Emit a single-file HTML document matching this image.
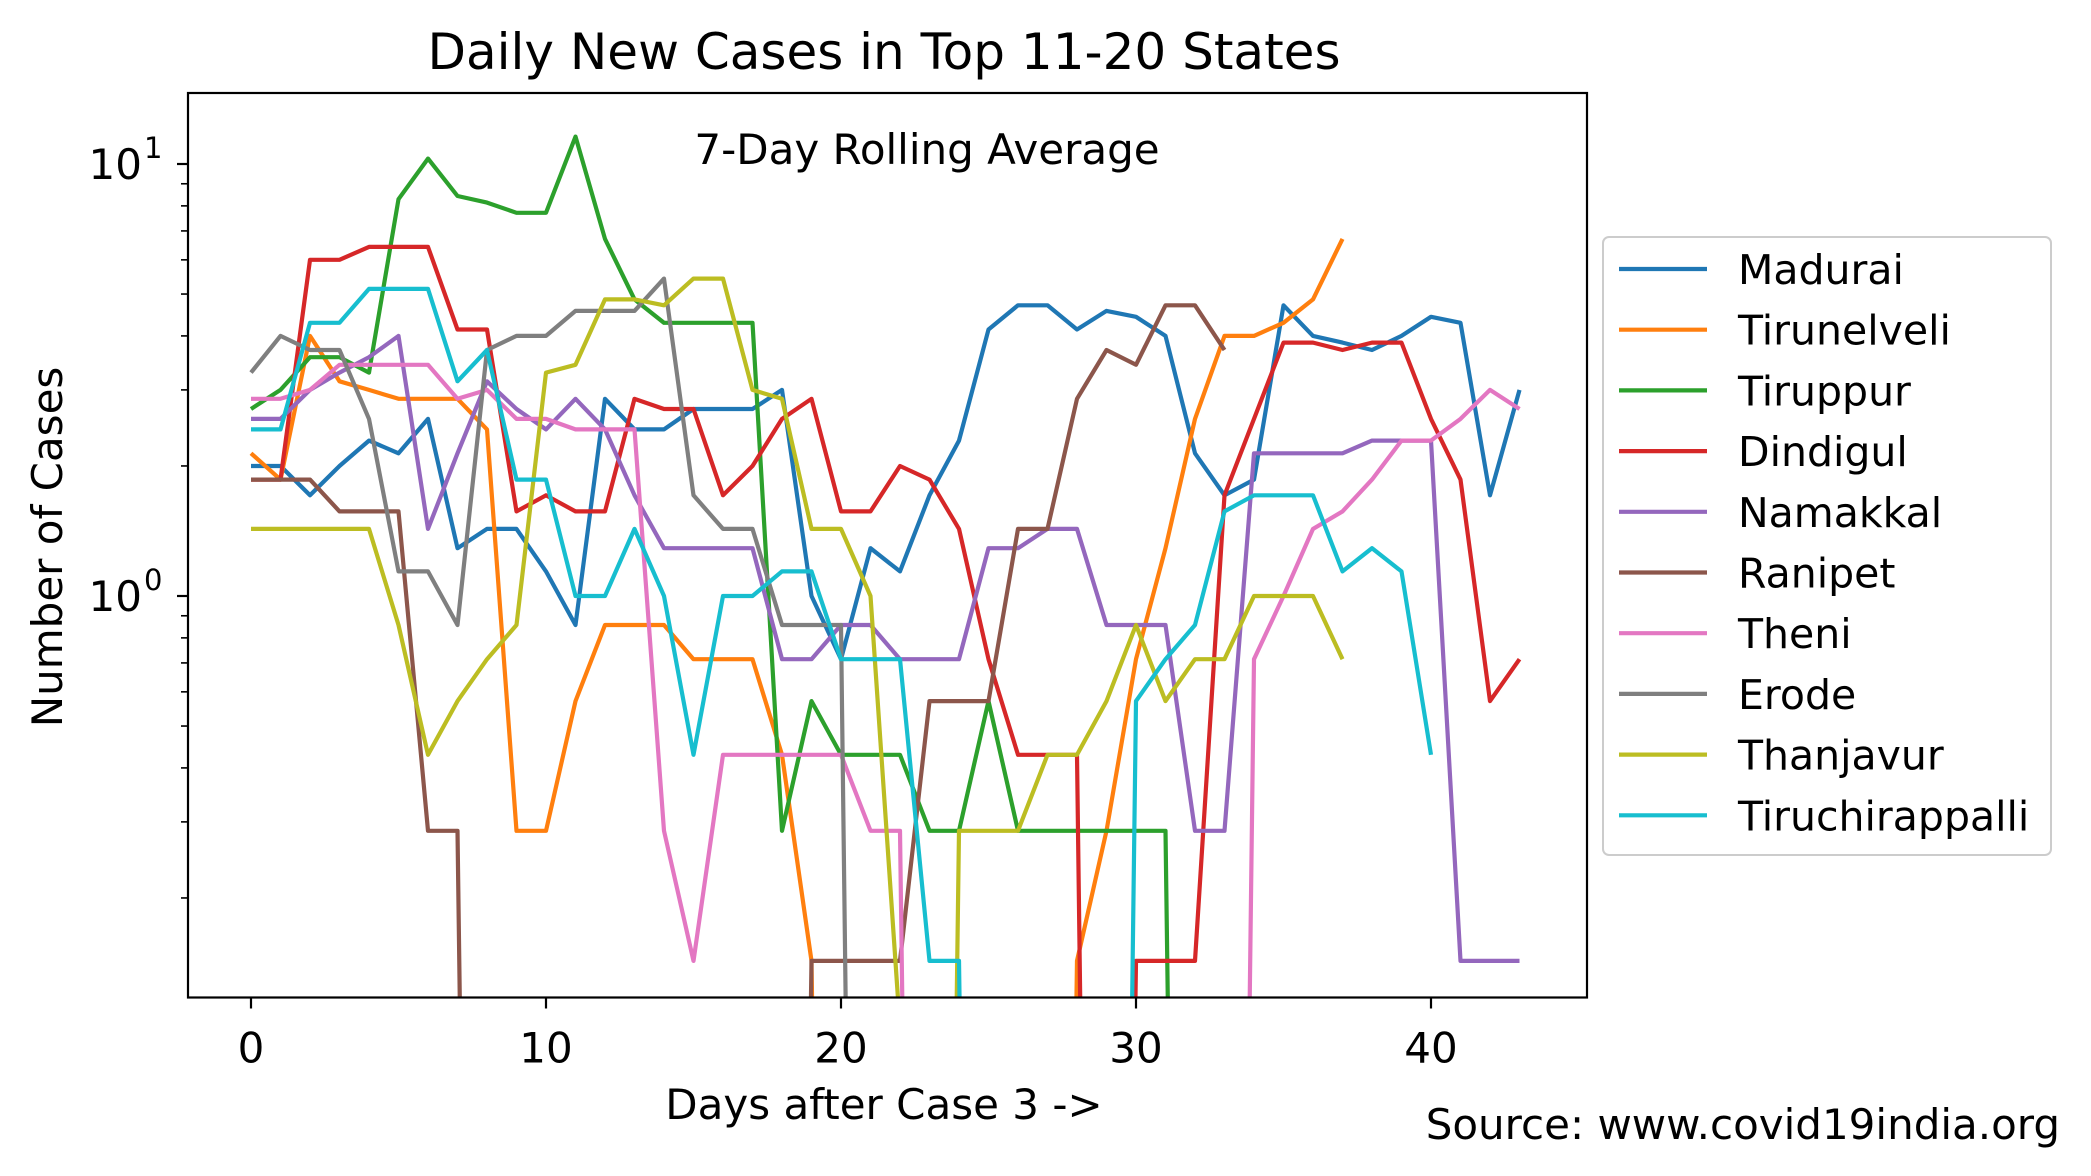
<!DOCTYPE html>
<html><head><meta charset="utf-8"><style>
html,body{margin:0;padding:0;background:#fff;overflow:hidden;width:2091px;height:1176px;}
svg{display:block;font-family:"DejaVu Sans","Liberation Sans",sans-serif;}
</style></head><body>
<svg id="chart" width="2091" height="1176" viewBox="0 0 2091 1176">
<defs><clipPath id="plotclip"><rect x="188" y="93" width="1399" height="904.5"/></clipPath></defs>
<text x="884" y="69" font-size="50" text-anchor="middle">Daily New Cases in Top 11-20 States</text>
<text x="927" y="164" font-size="42" text-anchor="middle">7-Day Rolling Average</text>
<g id="series" clip-path="url(#plotclip)"></g>
<rect x="188" y="93" width="1399" height="904.5" fill="none" stroke="#000" stroke-width="2.2"/>
<g id="xticks"></g>
<g id="yticks"></g>
<text x="884" y="1119" font-size="42" text-anchor="middle">Days after Case 3 -&gt;</text>
<text x="0" y="0" font-size="42" text-anchor="middle" transform="translate(62,547) rotate(-90)">Number of Cases</text>
<text x="2060" y="1139" font-size="42" text-anchor="end">Source: www.covid19india.org</text>
<g id="legend">
<rect x="1603" y="237" width="448" height="618" rx="6" fill="#fff" stroke="#ccc" stroke-width="2"/>
</g>
</svg>
<script>
const days = Array.from({length:44},(_,i)=>i);
const seriesNames = ["Madurai","Tirunelveli","Tiruppur","Dindigul","Namakkal","Ranipet","Theni","Erode","Thanjavur","Tiruchirappalli"];
const seriesColors = ["#1f77b4","#ff7f0e","#2ca02c","#d62728","#9467bd","#8c564b","#e377c2","#7f7f7f","#bcbd22","#17becf"];
const madurai = [2,2,1.71,2,2.29,2.14,2.57,1.29,1.43,1.43,1.14,0.857,2.86,2.43,2.43,2.71,2.71,2.71,3,1,0.714,1.29,1.14,1.71,2.29,4.14,4.71,4.71,4.14,4.57,4.43,4,2.14,1.71,1.86,4.71,4,3.86,3.71,4,4.43,4.29,1.71,3];
const tirunelveli = [2.14,1.86,4,3.14,3,2.86,2.86,2.86,2.43,0.286,0.286,0.571,0.857,0.857,0.857,0.714,0.714,0.714,0.429,0.143,0,0,0,0,0,0,0,0,0.143,0.286,0.714,1.29,2.57,4,4,4.29,4.86,6.71];
const tiruppur = [2.71,3,3.57,3.57,3.29,8.29,10.29,8.43,8.14,7.71,7.71,11.57,6.71,4.86,4.29,4.29,4.29,4.29,0.286,0.571,0.429,0.429,0.429,0.286,0.286,0.571,0.286,0.286,0.286,0.286,0.286,0.286,0,0,0,0,0,0,0,0,0,0,0,0];
const dindigul = [1.86,1.86,6,6,6.43,6.43,6.43,4.14,4.14,1.57,1.71,1.57,1.57,2.86,2.71,2.71,1.71,2,2.57,2.86,1.57,1.57,2,1.86,1.43,0.714,0.429,0.429,0.429,0,0.143,0.143,0.143,1.71,2.57,3.86,3.86,3.71,3.86,3.86,2.57,1.86,0.571,0.714];
const namakkal = [2.57,2.57,3,3.29,3.57,4,1.43,2.14,3.14,2.71,2.43,2.86,2.43,1.71,1.29,1.29,1.29,1.29,0.714,0.714,0.857,0.857,0.714,0.714,0.714,1.29,1.29,1.43,1.43,0.857,0.857,0.857,0.286,0.286,2.14,2.14,2.14,2.14,2.29,2.29,2.29,0.143,0.143,0.143];
const ranipet = [1.86,1.86,1.86,1.57,1.57,1.57,0.286,0.286,0,0,0,0,0,0,0,0,0,0,0,0.143,0.143,0.143,0.143,0.571,0.571,0.571,1.43,1.43,2.86,3.71,3.43,4.71,4.71,3.71];
const theni = [2.86,2.86,3,3.43,3.43,3.43,3.43,2.86,3,2.57,2.57,2.43,2.43,2.43,0.286,0.143,0.429,0.429,0.429,0.429,0.429,0.286,0.286,0,0,0,0,0,0,0,0,0,0,0,0.714,1,1.43,1.57,1.86,2.29,2.29,2.57,3,2.71];
const erode = [3.29,4,3.71,3.71,2.57,1.14,1.14,0.857,3.71,4,4,4.57,4.57,4.57,5.43,1.71,1.43,1.43,0.857,0.857,0.857,0,0,0,0,0,0,0,0,0,0,0,0,0,0,0,0,0,0,0,0,0,0,0];
const thanjavur = [1.43,1.43,1.43,1.43,1.43,0.857,0.429,0.571,0.714,0.857,3.29,3.43,4.86,4.86,4.71,5.43,5.43,3,2.86,1.43,1.43,1,0.1,0,0.286,0.286,0.286,0.429,0.429,0.571,0.857,0.571,0.714,0.714,1,1,1,0.714];
const tiruchirappalli = [2.43,2.43,4.29,4.29,5.14,5.14,5.14,3.14,3.71,1.86,1.86,1,1,1.43,1,0.429,1,1,1.14,1.14,0.714,0.714,0.714,0.143,0.143,0,0,0,0,0,0.571,0.714,0.857,1.57,1.71,1.71,1.71,1.14,1.29,1.14,0.429];
const allSeries = [madurai,tirunelveli,tiruppur,dindigul,namakkal,ranipet,theni,erode,thanjavur,tiruchirappalli];
const xTicks = [0,10,20,30,40];
const yMajor = [0,1];

const NS="http://www.w3.org/2000/svg";
const X0=251, XS=29.5, Y0=596, DEC=432, BOT=997.5;
function xs(d){return X0+XS*d;}
function ys(v){ if(v<=0) return 3000; return Y0-Math.log10(v)*DEC; }
function mk(tag,attrs,parent){const e=document.createElementNS(NS,tag);for(const k in attrs)e.setAttribute(k,attrs[k]);parent.appendChild(e);return e;}

const sg=document.getElementById('series');
allSeries.forEach((arr,si)=>{
  const pts=arr.map((v,i)=>xs(days[i]).toFixed(1)+','+ys(v).toFixed(1)).join(' ');
  const pl=mk('polyline',{points:pts,fill:'none',stroke:seriesColors[si],'stroke-width':4.2,'stroke-linejoin':'round'},sg);
  
  
});

const xg=document.getElementById('xticks');
xTicks.forEach(t=>{
  const x=xs(t);
  const l=mk('line',{x1:x,x2:x,y1:BOT,y2:BOT+11,stroke:'#000','stroke-width':2.2},xg);
  
  
  const tx=mk('text',{x:x,y:BOT+65,'font-size':42,'text-anchor':'middle'},xg);
  tx.textContent=t;
  
  
});

const yg=document.getElementById('yticks');
yMajor.forEach(p=>{
  const y=Y0-p*DEC;
  const l=mk('line',{x1:188,x2:177,y1:y,y2:y,stroke:'#000','stroke-width':2.2},yg);
  
  
  const tx=mk('text',{x:142,y:y+15,'font-size':42,'text-anchor':'end'},yg);
  tx.textContent='10';
  
  
  const sp=mk('text',{x:144,y:y-6,'font-size':29,'text-anchor':'start'},yg);
  sp.textContent=String(p);
  
  
});
[-1,0,1].forEach(p=>{
  for(let m=2;m<=9;m++){
    const v=m*Math.pow(10,p);
    const y=ys(v);
    if(y<93||y>BOT) continue;
    const l=mk('line',{x1:188,x2:181,y1:y,y2:y,stroke:'#000','stroke-width':1.6},yg);
    
    
  }
});

const lg=document.getElementById('legend');
seriesNames.forEach((n,i)=>{
  const y=269+60.7*i;
  const l=mk('line',{x1:1619,x2:1707,y1:y,y2:y,stroke:seriesColors[i],'stroke-width':4.2},lg);
  
  
  const t=mk('text',{x:1738,y:y+15,'font-size':41},lg);
  t.textContent=n;
  
  
});
</script>
</body></html>
